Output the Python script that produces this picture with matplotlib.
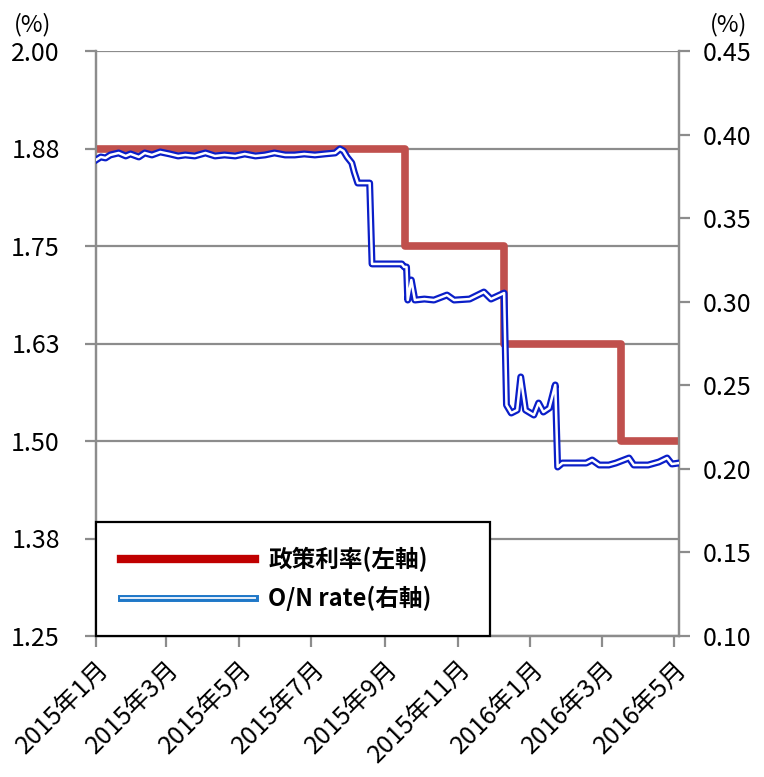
import matplotlib
matplotlib.use("Agg")
import matplotlib.pyplot as plt
import pandas as pd
from matplotlib.lines import Line2D
from matplotlib.legend_handler import HandlerTuple

plt.rcParams['font.family'] = ['Noto Sans CJK JP', 'DejaVu Sans']

# policy rate (left axis), change dates
policy_dates = ['2015-01-01', '2015-09-18', '2015-12-10', '2016-03-17', '2016-05-05']
policy_rate = [1.875, 1.75, 1.625, 1.5, 1.5]

# overnight rate (right axis)
on_dates = ['2015-01-01', '2015-01-05', '2015-01-09', '2015-01-13', '2015-01-20',
            '2015-01-26', '2015-01-30', '2015-02-06', '2015-02-11', '2015-02-17',
            '2015-02-24', '2015-03-04', '2015-03-11', '2015-03-17', '2015-03-25',
            '2015-04-03', '2015-04-11', '2015-04-19', '2015-04-28', '2015-05-06',
            '2015-05-15', '2015-05-23', '2015-05-31', '2015-06-09', '2015-06-17',
            '2015-06-25', '2015-07-04', '2015-07-12', '2015-07-21', '2015-07-25',
            '2015-07-28', '2015-07-31', '2015-08-04', '2015-08-06', '2015-08-09',
            '2015-08-19', '2015-08-21', '2015-09-15', '2015-09-17', '2015-09-19',
            '2015-09-20', '2015-09-23', '2015-09-26', '2015-10-04', '2015-10-12',
            '2015-10-23', '2015-10-29', '2015-11-11', '2015-11-23', '2015-11-29',
            '2015-12-10', '2015-12-12', '2015-12-16', '2015-12-21', '2015-12-24',
            '2015-12-28', '2016-01-04', '2016-01-08', '2016-01-12', '2016-01-17',
            '2016-01-22', '2016-01-24', '2016-01-28', '2016-02-17', '2016-02-22',
            '2016-02-28', '2016-03-07', '2016-03-13', '2016-03-24', '2016-03-28',
            '2016-04-09', '2016-04-18', '2016-04-25', '2016-04-29', '2016-05-05']
on_rate = [0.3848, 0.3866, 0.3860, 0.3878, 0.3890,
           0.3872, 0.3884, 0.3866, 0.3890, 0.3878,
           0.3896, 0.3884, 0.3872, 0.3878, 0.3872,
           0.3890, 0.3872, 0.3878, 0.3872, 0.3884,
           0.3872, 0.3878, 0.3890, 0.3878, 0.3878,
           0.3884, 0.3878, 0.3884, 0.3890, 0.3914,
           0.3902, 0.3866, 0.3830, 0.3776, 0.3710,
           0.3710, 0.3226, 0.3226, 0.3208, 0.3208,
           0.3010, 0.3130, 0.3010, 0.3016, 0.3010,
           0.3040, 0.3010, 0.3016, 0.3058, 0.3016,
           0.3052, 0.2382, 0.2334, 0.2352, 0.2550,
           0.2352, 0.2322, 0.2394, 0.2340, 0.2364,
           0.2502, 0.2011, 0.2035, 0.2035, 0.2053,
           0.2023, 0.2023, 0.2035, 0.2065, 0.2023,
           0.2023, 0.2041, 0.2065, 0.2029, 0.2035]

left_ticks = [1.25, 1.375, 1.5, 1.625, 1.75, 1.875, 2.0]
left_labels = ['1.25', '1.38', '1.50', '1.63', '1.75', '1.88', '2.00']
right_ticks = [0.10, 0.15, 0.20, 0.25, 0.30, 0.35, 0.40, 0.45]
month_ticks = ['2015-01-01', '2015-03-01', '2015-05-01', '2015-07-01', '2015-09-01',
               '2015-11-01', '2016-01-01', '2016-03-01', '2016-05-01']
month_labels = ['2015年1月', '2015年3月', '2015年5月', '2015年7月', '2015年9月',
                '2015年11月', '2016年1月', '2016年3月', '2016年5月']

grey = '#8c8c8c'
red = '#c0504d'
blue = '#0a1ec8'

fig = plt.figure(figsize=(7.64, 7.77), dpi=100)
ax = fig.add_axes([96 / 764, 1 - 636 / 777, 583 / 764, 585 / 777])
ax2 = ax.twinx()

pdates = pd.to_datetime(policy_dates)
ax.step(pdates, policy_rate, where='post', color=red, lw=5.5, zorder=3)

odates = pd.to_datetime(on_dates)
ax2.plot(odates, on_rate, color=blue, lw=5, zorder=3)
ax2.plot(odates, on_rate, color='white', lw=1.8, zorder=4)

ax.set_ylim(1.25, 2.0)
ax2.set_ylim(0.10, 0.45)
ax.set_xlim(pd.Timestamp('2015-01-01'), pd.Timestamp('2016-05-05'))

ax.set_yticks(left_ticks)
ax.set_yticklabels(left_labels)
ax2.set_yticks(right_ticks)
ax2.set_yticklabels(['%.2f' % t for t in right_ticks])
ax.set_xticks(pd.to_datetime(month_ticks))
ax.set_xticklabels(month_labels, rotation=45, ha='right', va='top', rotation_mode='anchor')

ax.yaxis.grid(True, color=grey, lw=1.6, zorder=0)
ax.set_axisbelow(True)

for a in (ax, ax2):
    a.spines['top'].set_visible(False)
    for s in ('left', 'right', 'bottom'):
        a.spines[s].set_color(grey)
        a.spines[s].set_linewidth(1.6)
    a.tick_params(colors=grey, width=1.6, length=8, labelsize=18, labelcolor='black')
ax.tick_params(axis='y', pad=18)
ax2.tick_params(axis='y', pad=9)
ax.tick_params(axis='x', labelsize=18, pad=6)

fig.text(14 / 764, 1 - 25 / 777, '(%)', fontsize=17, va='center')
fig.text(710 / 764, 1 - 25 / 777, '(%)', fontsize=17, va='center')

h_red = Line2D([], [], color='#c00000', lw=6)
h_blue1 = Line2D([], [], color='#1f78c8', lw=5)
h_blue2 = Line2D([], [], color='#e8f0fa', lw=1.4)
leg = ax2.legend([h_red, (h_blue1, h_blue2)], ['政策利率(左軸)', 'O/N rate(右軸)'],
                 handler_map={tuple: HandlerTuple(ndivide=1)},
                 loc='lower left', bbox_to_anchor=(0.0, 0.0, 0.675, 0.198), mode='expand',
                 prop={'weight': 'bold', 'size': 17}, handlelength=5.7, handletextpad=0.55,
                 labelspacing=0.57, borderpad=1.05, fancybox=False, framealpha=1,
                 edgecolor='black', borderaxespad=0)
leg.get_frame().set_linewidth(1.6)
leg.set_zorder(10)

fig.savefig('out.png', dpi=100)
